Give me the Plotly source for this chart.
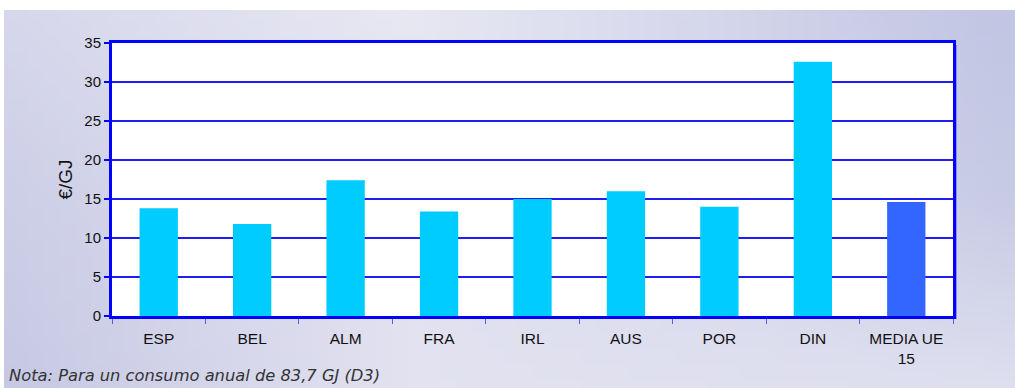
import base64
import struct
import zlib

import plotly.graph_objects as go

# Chart data
categories = ["ESP", "BEL", "ALM", "FRA", "IRL", "AUS", "POR", "DIN", "MEDIA UE<br>15"]
values = [13.8, 11.8, 17.4, 13.4, 15.0, 16.0, 14.0, 32.6, 14.6]
y_ticks = [0, 5, 10, 15, 20, 25, 30, 35]
y_title = "€/GJ"
note = "Nota: Para un consumo anual de 83,7 GJ (D3)"

# Styling
COUNTRY_COLOR = "#00CCFF"
AVERAGE_COLOR = "#3366FF"
bar_colors = [COUNTRY_COLOR] * (len(categories) - 1) + [AVERAGE_COLOR]
AXIS_BLUE = "#0000FF"
GRID_BLUE = "#1E1EF0"
FONT = "Liberation Sans, Arial, sans-serif"
NOTE_FONT = "DejaVu Sans, Verdana, sans-serif"
TEXT_COLOR = "#111111"

W, H = 1015, 388
PLOT_L, PLOT_R, PLOT_T, PLOT_B = 112, 953, 43, 316
PW, PH = PLOT_R - PLOT_L, PLOT_B - PLOT_T


def px_to_paper_x(px):
    return (px - PLOT_L) / PW


def px_to_paper_y(py):
    return (PLOT_B - py) / PH


# Soft lavender backdrop as a small stretched PNG
GRAD_XS = [0.0, 0.4, 1.0]
GRAD_YS = [0.0, 0.5, 1.0]
GRAD_COLORS = [
    [(214, 215, 235), (232, 232, 243), (194, 197, 227)],
    [(205, 207, 231), (226, 226, 241), (200, 203, 229)],
    [(199, 201, 228), (226, 226, 240), (221, 222, 238)],
]


def lerp(a, b, t):
    return a + (b - a) * t


def seg(stops, v):
    for i in range(len(stops) - 1):
        if v <= stops[i + 1]:
            return i, (v - stops[i]) / (stops[i + 1] - stops[i])
    return len(stops) - 2, 1.0


def backdrop_pixel(u, v):
    i, tx = seg(GRAD_XS, u)
    j, ty = seg(GRAD_YS, v)
    out = []
    for c in range(3):
        top = lerp(GRAD_COLORS[j][i][c], GRAD_COLORS[j][i + 1][c], tx)
        bot = lerp(GRAD_COLORS[j + 1][i][c], GRAD_COLORS[j + 1][i + 1][c], tx)
        out.append(int(round(lerp(top, bot, ty))))
    return out


def png_data_uri(w, h):
    rows = []
    for y in range(h):
        row = bytearray(b"\x00")
        for x in range(w):
            row.extend(backdrop_pixel(x / (w - 1), y / (h - 1)))
        rows.append(bytes(row))
    raw = b"".join(rows)

    def chunk(tag, data):
        return (struct.pack(">I", len(data)) + tag + data
                + struct.pack(">I", zlib.crc32(tag + data) & 0xFFFFFFFF))

    png = (b"\x89PNG\r\n\x1a\n"
           + chunk(b"IHDR", struct.pack(">IIBBBBB", w, h, 8, 2, 0, 0, 0))
           + chunk(b"IDAT", zlib.compress(raw))
           + chunk(b"IEND", b""))
    return "data:image/png;base64," + base64.b64encode(png).decode()


fig = go.Figure(
    go.Bar(
        x=categories,
        y=values,
        marker=dict(color=bar_colors, line=dict(width=0)),
        width=0.41,
        hoverinfo="x+y",
    )
)

panel_left, panel_top = 4, 10
fig.add_layout_image(
    source=png_data_uri(64, 24),
    xref="paper", yref="paper",
    x=px_to_paper_x(panel_left), y=px_to_paper_y(panel_top),
    sizex=(W - panel_left) / PW, sizey=(H - panel_top) / PH,
    xanchor="left", yanchor="top",
    sizing="stretch", layer="below",
)

shapes = [
    # white plotting area over the backdrop
    dict(type="rect", xref="paper", yref="paper", x0=0, x1=1, y0=0, y1=1,
         fillcolor="white", line=dict(width=0), layer="below"),
    # light shadow along the right edge of the frame
    dict(type="line", xref="paper", yref="paper",
         x0=px_to_paper_x(PLOT_R + 3), x1=px_to_paper_x(PLOT_R + 3),
         y0=px_to_paper_y(PLOT_T + 2), y1=px_to_paper_y(PLOT_B + 3),
         line=dict(color="#8F8FF5", width=2), layer="below"),
]
fig.update_layout(shapes=shapes)

fig.add_annotation(
    text=note, xref="paper", yref="paper",
    x=px_to_paper_x(7), y=px_to_paper_y(375),
    xanchor="left", yanchor="middle", showarrow=False,
    font=dict(family=NOTE_FONT, size=16.3, color="#333333", style="italic"),
)

fig.update_layout(
    width=W, height=H,
    margin=dict(l=PLOT_L, r=W - PLOT_R, t=PLOT_T, b=H - PLOT_B, pad=0),
    paper_bgcolor="white",
    plot_bgcolor="white",
    showlegend=False,
    bargap=0.59,
    font=dict(family=FONT, size=15, color=TEXT_COLOR),
    xaxis=dict(
        type="category",
        showline=True, linecolor=AXIS_BLUE, linewidth=3, mirror=True,
        showgrid=False, zeroline=False,
        ticks="outside", tickson="boundaries", ticklen=5, tickwidth=1,
        tickcolor="#5A5AF0",
        ticklabelstandoff=6,
        tickfont=dict(family=FONT, size=15.5, color=TEXT_COLOR),
        fixedrange=True,
    ),
    yaxis=dict(
        range=[0, 35], tickvals=y_ticks, ticktext=[str(v) for v in y_ticks],
        showline=True, linecolor=AXIS_BLUE, linewidth=3, mirror=True,
        showgrid=True, gridcolor=GRID_BLUE, gridwidth=1.5,
        zeroline=False,
        ticks="outside", ticklen=5, tickwidth=1.5, tickcolor=AXIS_BLUE,
        tickfont=dict(family=FONT, size=15, color=TEXT_COLOR),
        title=dict(text=y_title, font=dict(family=FONT, size=19, color=TEXT_COLOR),
                   standoff=7),
        fixedrange=True,
    ),
)

fig.write_html("out.html")
